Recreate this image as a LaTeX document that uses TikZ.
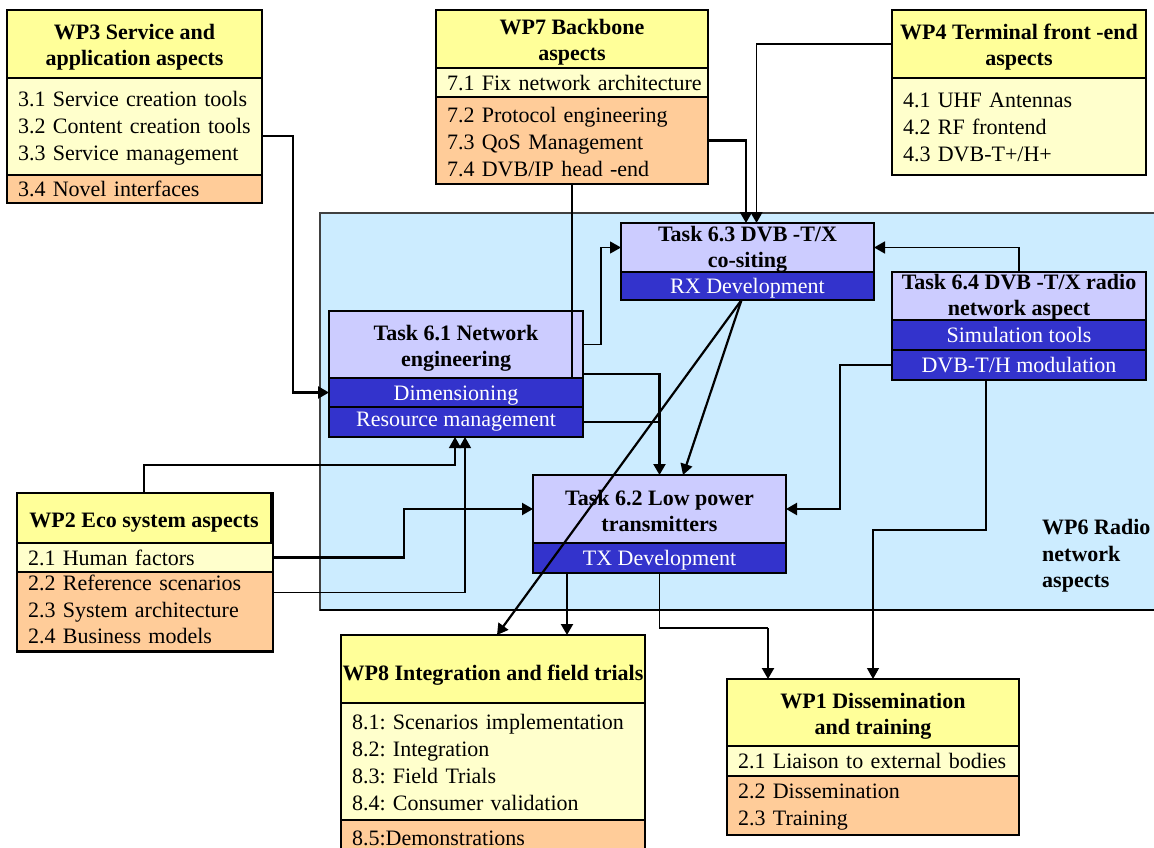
\documentclass[tikz,border=0pt]{standalone}
\usepackage{fontspec}
\setmainfont{Liberation Serif}
\usetikzlibrary{arrows.meta}
\definecolor{hdryellow}{HTML}{FFFF99}
\definecolor{liteyellow}{HTML}{FFFFCC}
\definecolor{orngfill}{HTML}{FFCC99}
\definecolor{lavfill}{HTML}{CCCCFF}
\definecolor{taskblue}{HTML}{3333CC}
\definecolor{wpbg}{HTML}{CCECFF}
% item lists: one unbreakable block of left-aligned lines
\newcommand{\itemrows}[2][25pt]{\begin{tabular}{@{}l@{}}\rule{0pt}{#1}#2\end{tabular}}
% extra room above the first line of a bold heading
\newcommand{\hdgap}[1][22pt]{\rule{0pt}{#1}}
\begin{document}
\frenchspacing
\begin{tikzpicture}[x=1pt,y=-1pt,
  sec/.style={draw=black, line width=1.2pt, anchor=north west, inner sep=0pt, outer sep=0pt},
  hdr/.style={sec, fill=hdryellow, align=center, font=\bfseries\fontsize{22}{26}\selectfont},
  lite/.style={sec, fill=liteyellow, align=left, inner xsep=11pt, font=\fontsize{22}{27}\selectfont},
  orng/.style={sec, fill=orngfill, align=left, inner xsep=11pt, font=\fontsize{22}{27}\selectfont},
  thdr/.style={sec, fill=lavfill, align=center, font=\bfseries\fontsize{22}{26}\selectfont},
  tsub/.style={sec, fill=taskblue, text=white, align=center, font=\fontsize{22}{27}\selectfont},
  frame/.style={draw=black, line width=2.2pt},
  tip/.style={-{Triangle[length=11pt,width=12pt]}},
  thk/.style={line width=2.2pt, tip},
  med/.style={line width=1.7pt, tip},
  thn/.style={line width=1.2pt, tip},
  thkline/.style={line width=2.2pt},
  thnline/.style={line width=1.2pt}
]
\useasboundingbox (0,0) rectangle (1154,847);
\clip (0,0) rectangle (1154,847);
\fill[white] (0,0) rectangle (1154,847);

% WP6 area
\draw[fill=wpbg, draw=black!75, line width=1.2pt] (320,213) rectangle (1170,610);
\draw[line width=2.4pt] (320,610) -- (1170,610);
\node[anchor=west, align=left, inner sep=0pt, font=\bfseries\fontsize{22}{26.5}\selectfont] (w6) at (1042,556) {WP6 Radio\\network\\aspects};

% WP3
\node[hdr, minimum width=255, minimum height=68] (w3h) at (7,10) {\hdgap WP3 Service and\\application aspects};
\node[lite, minimum width=255, minimum height=97, text width=233] (w3a) at (7,78) {\itemrows[22pt]{3.1 Service creation tools\\3.2 Content creation tools\\3.3 Service management}};
\node[orng, minimum width=255, minimum height=28, text width=233] (w3b) at (7,175) {3.4 Novel interfaces};
\draw[frame] (w3h.north west) rectangle (w3b.south east);

% WP7
\node[hdr, minimum width=272, minimum height=58] (w7h) at (436,10) {\hdgap WP7 Backbone\\aspects};
\node[lite, minimum width=272, minimum height=29, text width=250] (w7a) at (436,68) {\itemrows[22pt]{7.1 Fix network architecture}};
\node[orng, minimum width=272, minimum height=87, text width=250] (w7b) at (436,97) {\itemrows{7.2 Protocol engineering\\7.3 QoS Management\\7.4 DVB/IP head -end}};
\draw[frame] (w7h.north west) rectangle (w7b.south east);

% WP4
\node[hdr, minimum width=254, minimum height=68] (w4h) at (892,10) {\hdgap WP4 Terminal front -end\\aspects};
\node[lite, minimum width=254, minimum height=97, text width=232] (w4a) at (892,78) {\itemrows{4.1 UHF Antennas\\4.2 RF frontend\\4.3 DVB-T+/H+}};
\draw[frame] (w4h.north west) rectangle (w4a.south east);

% Task 6.3
\node[thdr, minimum width=253, minimum height=49] (t63h) at (621,223) {\hdgap[18pt]Task 6.3 DVB -T/X\\co-siting};
\node[tsub, minimum width=253, minimum height=28] (t63b) at (621,272) {\hdgap[20pt]RX Development};
\draw[frame] (t63h.north west) rectangle (t63b.south east);

% Task 6.4
\node[thdr, minimum width=254, minimum height=48] (t64h) at (892,272) {\hdgap[17pt]Task 6.4 DVB -T/X radio\\network aspect};
\node[tsub, minimum width=254, minimum height=30] (t64a) at (892,320) {Simulation tools};
\node[tsub, minimum width=254, minimum height=30] (t64b) at (892,350) {DVB-T/H modulation};
\draw[frame] (t64h.north west) rectangle (t64b.south east);

% Task 6.1
\node[thdr, minimum width=254, minimum height=67] (t61h) at (329,311) {\hdgap Task 6.1 Network\\engineering};
\node[tsub, minimum width=254, minimum height=29] (t61a) at (329,378) {\hdgap[20pt]Dimensioning};
\node[tsub, minimum width=254, minimum height=30] (t61b) at (329,407) {Resource management};
\draw[frame] (t61h.north west) rectangle (t61b.south east);

% Task 6.2
\node[thdr, minimum width=253, minimum height=68] (t62h) at (533,475) {\hdgap[20pt]Task 6.2 Low power\\transmitters};
\node[tsub, minimum width=253, minimum height=30] (t62b) at (533,543) {\hdgap[20pt]TX Development};
\draw[frame] (t62h.north west) rectangle (t62b.south east);

% WP2
\node[hdr, minimum width=254, minimum height=50] (w2h) at (17,493) {\hdgap[24pt]WP2 Eco system aspects};
\node[lite, minimum width=254, minimum height=29, text width=234] (w2a) at (17,543) {2.1 Human factors};
\node[orng, minimum width=254, minimum height=78, text width=234, font=\fontsize{22}{26.5}\selectfont] (w2b) at (17,572) {\itemrows[10pt]{2.2 Reference scenarios\\2.3 System architecture\\2.4 Business models}};
\draw[frame] (w2h.north west) rectangle (w2b.south east);

% WP8
\node[hdr, minimum width=304, minimum height=68] (w8h) at (341,635) {\hdgap[28pt]WP8 Integration and field trials};
\node[lite, minimum width=304, minimum height=117, text width=282] (w8a) at (341,703) {\itemrows{8.1: Scenarios implementation\\8.2: Integration\\8.3: Field Trials\\8.4: Consumer validation}};
\node[orng, minimum width=304, minimum height=40, text width=282] (w8b) at (341,820) {\itemrows[10pt]{8.5:Demonstrations}\\[-6pt]};
\draw[frame] (w8h.north west) rectangle (w8b.south east);

% WP1
\node[hdr, minimum width=292, minimum height=67] (w1h) at (727,679) {\hdgap WP1 Dissemination\\and training};
\node[lite, minimum width=292, minimum height=30, text width=270] (w1a) at (727,746) {\itemrows[22pt]{2.1 Liaison to external bodies}};
\node[orng, minimum width=292, minimum height=59, text width=270] (w1b) at (727,776) {\itemrows[22pt]{2.2 Dissemination\\2.3 Training}};
\draw[frame] (w1h.north west) rectangle (w1b.south east);

% connectors
\draw[thk] ([yshift=-9.5pt]w3a.east) -- ++(31,0) |- (t61a.west);
\draw[thkline] (w7b.south) -- (w7b.south |- t61h.south);
\draw[thk] (w7b.east) -| ([xshift=-1.5pt]t63h.north);
\draw[med] (w4h.west) -| ([xshift=9pt]t63h.north);
\draw[thn] (t61h.east) -- ++(18,0) |- (t63h.west);
\draw[med] (t64h.north) |- (t63h.east);
\draw[thk] ([xshift=-6pt]t63b.south) -- ([xshift=23.5pt]t62h.north);
\draw[thk] ([xshift=-6pt]t63b.south) -- ([xshift=4pt]w8h.north);
\draw[thk] ([yshift=4pt]t61h.south east) -| (t62h.north);
\draw[thnline] (t61b.east) -- (t61b.east -| t62h.north);
\draw[thk] (t64b.west) -- ++(-52,0) |- (t62h.east);
\draw[thn] ([xshift=-33pt]t64b.south) -- ++(0,150) -| (w1h.north);
\draw[thnline] (t62b.south) -- ++(0,55) -- ++(108.5,0) coordinate (bend);
\draw[thk] (bend) -- (bend |- w1h.north);
\draw[thk] ([xshift=-92.5pt]t62b.south) -- ([xshift=74pt]w8h.north);
\draw[thn] (w2h.north) -- ++(0,-28) -| ([xshift=-1pt]t61b.south);
\draw[thn] ([yshift=19pt]w2b.east) -| ([xshift=9pt]t61b.south);
\draw[thk] (w2a.east) -- ++(131,0) |- (t62h.west);
\end{tikzpicture}
\end{document}
